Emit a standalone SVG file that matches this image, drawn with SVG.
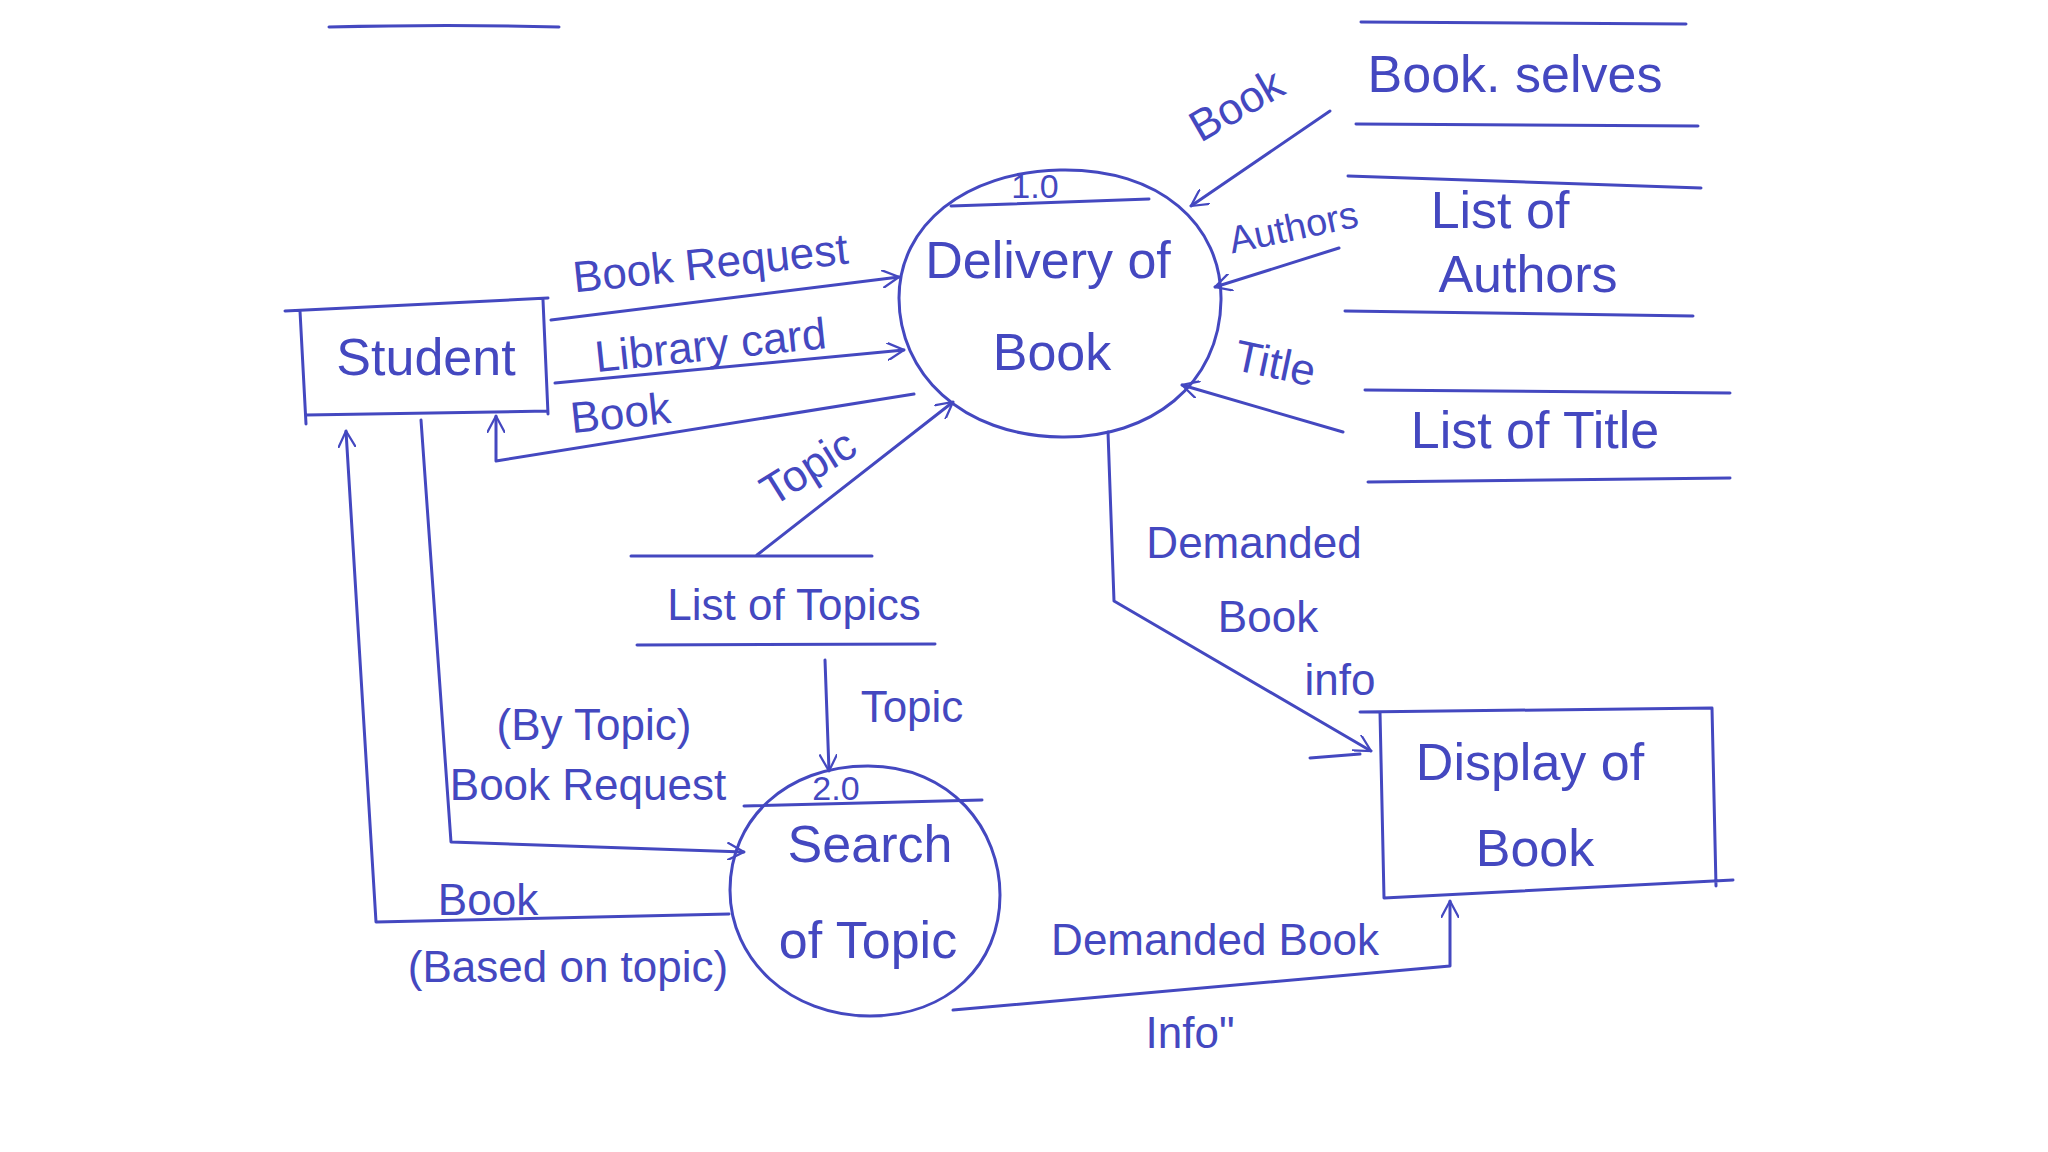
<svg xmlns="http://www.w3.org/2000/svg" width="2048" height="1152" viewBox="0 0 2048 1152">
<defs>
<marker id="arr" viewBox="0 0 16 16" refX="15" refY="8" markerWidth="18" markerHeight="18" markerUnits="userSpaceOnUse" orient="auto">
<path d="M0,0 L15,8 L0,16" fill="none" stroke="#4448c0" stroke-width="2"/>
</marker>
<style>
.ink{fill:none;stroke:#4448c0;stroke-width:3;stroke-linecap:round;stroke-linejoin:round}
.fl{marker-end:url(#arr)}
text{font-family:"Liberation Sans",Arial,sans-serif;fill:#4448c0;text-anchor:middle}
.n{font-size:52px}
.l{font-size:44px}
.s{font-size:34px}
</style>
</defs>
<rect width="2048" height="1152" fill="#ffffff"/>
<path class="ink" d="M329,27 Q450,24 559,27"/>
<g id="student">
<path class="ink" d="M285,311 L548,298 M300,311 L306,424 M306,415 L548,411 M543,300 L548,414"/>
<text class="n" x="426" y="375">Student</text>
</g>
<g id="p1">
<path class="ink" d="M1060,170 C1160,168 1222,225 1221,300 C1220,385 1150,438 1062,437 C960,436 899,372 899,298 C899,225 965,172 1060,170 Z"/>
<path class="ink" d="M951,206 L1149,199"/>
<text class="s" x="1035" y="198">1.0</text>
<text class="n" x="1048" y="278">Delivery of</text>
<text class="n" x="1052" y="370">Book</text>
</g>
<g id="ds-shelves">
<path class="ink" d="M1361,22 L1686,24 M1356,124 L1698,126"/>
<text class="n" x="1515" y="92">Book. selves</text>
</g>
<g id="ds-authors">
<path class="ink" d="M1348,176 L1701,188 M1345,311 L1693,316"/>
<text class="n" x="1500" y="228">List of</text>
<text class="n" x="1528" y="292">Authors</text>
</g>
<g id="ds-title">
<path class="ink" d="M1365,390 L1730,393 M1368,482 L1730,478"/>
<text class="n" x="1535" y="448">List of Title</text>
</g>
<g id="ds-topics">
<path class="ink" d="M631,556 L872,556 M637,645 L935,644"/>
<text class="l" x="794" y="620">List of Topics</text>
</g>
<g id="p2">
<path class="ink" d="M868,766 C952,766 1000,830 1000,895 C1000,965 948,1016 870,1016 C790,1016 730,960 730,890 C730,820 785,766 868,766 Z"/>
<path class="ink" d="M744,806 L982,800"/>
<text class="s" x="836" y="800">2.0</text>
<text class="n" x="870" y="862">Search</text>
<text class="n" x="868" y="958">of Topic</text>
</g>
<g id="display">
<path class="ink" d="M1360,712 L1712,708 L1716,886 M1380,712 L1384,898 L1733,880"/>
<text class="n" x="1530" y="780">Display of</text>
<text class="n" x="1535" y="866">Book</text>
</g>
<g id="connectors">
<path class="ink fl" d="M551,320 L899,277"/>
<text class="l" x="712" y="278" transform="rotate(-6 712 278)">Book Request</text>
<path class="ink fl" d="M555,383 L904,350"/>
<text class="l" x="712" y="360" transform="rotate(-6 712 360)">Library card</text>
<path class="ink fl" d="M914,394 L496,461 L496,416"/>
<text class="l" x="622" y="428" transform="rotate(-6 622 428)">Book</text>
<path class="ink fl" d="M757,555 L953,402"/>
<text class="l" x="816" y="480" transform="rotate(-32 816 480)">Topic</text>
<path class="ink fl" d="M1330,111 L1191,206"/>
<text class="l" x="1244" y="118" transform="rotate(-30 1244 118)">Book</text>
<path class="ink fl" d="M1339,248 L1215,287"/>
<text class="s" x="1296" y="240" transform="rotate(-12 1296 240)" style="font-size:38px">Authors</text>
<path class="ink fl" d="M1343,432 L1182,385"/>
<text class="l" x="1272" y="378" transform="rotate(12 1272 378)">Title</text>
<path class="ink fl" d="M1108,432 L1114,601 L1371,751"/>
<text class="l" x="1254" y="558">Demanded</text>
<text class="l" x="1268" y="632">Book</text>
<text class="l" x="1340" y="695">info</text>
<path class="ink" d="M1310,758 L1360,754"/>
<path class="ink fl" d="M825,660 L829,771"/>
<text class="l" x="912" y="722">Topic</text>
<path class="ink fl" d="M421,420 L451,842 L744,852"/>
<text class="l" x="594" y="740">(By Topic)</text>
<text class="l" x="588" y="800">Book Request</text>
<path class="ink fl" d="M729,914 L376,922 L346,431"/>
<text class="l" x="488" y="915">Book</text>
<text class="l" x="568" y="982">(Based on topic)</text>
<path class="ink fl" d="M953,1010 L1450,966 L1450,901"/>
<text class="l" x="1215" y="955">Demanded Book</text>
<text class="l" x="1190" y="1048">Info"</text>
</g>
</svg>
